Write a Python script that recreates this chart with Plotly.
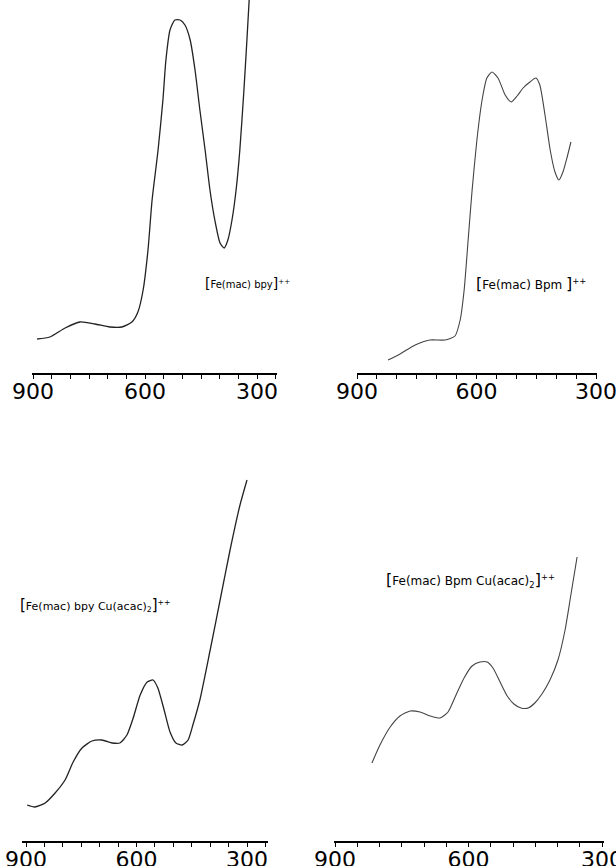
import plotly.graph_objects as go

# ---------------- data (wavelength nm, relative absorbance) ----------------
bpy_nm = [889, 855, 814, 774, 734, 694, 662, 635, 619, 605, 592, 581, 565, 552, 544, 533,
          520, 506, 493, 479, 466, 453, 439, 426, 413, 399, 388, 378, 367, 356, 346, 335, 327, 321]
bpy_abs = [0.34, 0.36, 0.45, 0.51, 0.49, 0.46, 0.46, 0.51, 0.61, 0.83, 1.23, 1.73, 2.23, 2.73, 3.13, 3.43,
           3.53, 3.53, 3.48, 3.33, 3.03, 2.63, 2.23, 1.83, 1.53, 1.30, 1.25, 1.33, 1.53, 1.83, 2.23, 2.83, 3.33, 3.73]

bpm_nm = [822, 792, 754, 717, 679, 654, 641, 631, 621, 611, 599, 586, 574, 561, 546, 528,
          513, 498, 483, 466, 451, 441, 428, 415, 403, 393, 383, 373, 363]
bpm_abs = [0.13, 0.19, 0.28, 0.33, 0.33, 0.37, 0.53, 0.83, 1.33, 1.83, 2.33, 2.73, 2.95, 3.01, 2.95, 2.78,
           2.71, 2.77, 2.85, 2.91, 2.95, 2.88, 2.58, 2.23, 2.01, 1.93, 2.01, 2.15, 2.31]

bpycu_nm = [897, 876, 848, 821, 794, 772, 748, 721, 694, 666, 645, 626, 609, 590, 571, 555,
            542, 525, 509, 493, 476, 460, 447, 428, 400, 373, 346, 319, 300]
bpycu_abs = [0.36, 0.34, 0.38, 0.48, 0.61, 0.79, 0.93, 1.00, 1.01, 0.98, 0.98, 1.06, 1.23, 1.46, 1.59, 1.61,
             1.53, 1.31, 1.09, 0.98, 0.96, 1.01, 1.16, 1.41, 1.91, 2.41, 2.91, 3.36, 3.61]

bpmcu_nm = [817, 799, 776, 754, 731, 709, 686, 664, 646, 628, 610, 592, 574, 558, 545, 529,
            513, 498, 482, 466, 451, 435, 417, 399, 383, 370, 356]
bpmcu_abs = [0.78, 0.96, 1.14, 1.25, 1.30, 1.29, 1.25, 1.23, 1.29, 1.46, 1.63, 1.75, 1.79, 1.79, 1.73, 1.59,
             1.45, 1.37, 1.33, 1.33, 1.38, 1.47, 1.61, 1.81, 2.11, 2.46, 2.84]

tick_vals = [900, 600, 300]
tick_text = ["900", "600", "300"]

BR = "<span style='font-size:{}px'>{}</span>"
labels = ["{}Fe(mac) bpy{}<sup>++</sup>",
          "{}Fe(mac) Bpm {}<sup>++</sup>",
          "{}Fe(mac) bpy Cu(acac)<sub>2</sub>{}<sup>++</sup>",
          "{}Fe(mac) Bpm Cu(acac)<sub>2</sub>{}<sup>++</sup>"]

# ---------------- layout geometry (pixels) ----------------
W, H = 616, 866
# (px of 900, px of 300, axis line start, axis line end, axis y, top y)
panels = [
    (33, 257, 32, 277, 373, 0),
    (357, 596, 357, 597, 373, 0),
    (26, 247, 22, 268, 841, 440),
    (335, 602, 334, 604, 841, 440),
]
series = [(bpy_nm, bpy_abs, "#222", 1.3), (bpm_nm, bpm_abs, "#444", 1.1),
          (bpycu_nm, bpycu_abs, "#222", 1.3), (bpmcu_nm, bpmcu_abs, "#444", 1.1)]
label_pos = [(203, 283), (474, 283), (18, 605), (384, 580)]
label_size = [10, 12, 11, 12]

fig = go.Figure()
layout = dict(width=W, height=H, margin=dict(l=0, r=0, t=0, b=0),
              paper_bgcolor="white", plot_bgcolor="white", showlegend=False,
              template="none")
annotations = []
for i, ((p9, p3, s0, s1, ay, ty), (xs, ys, col, lw), (lx, ly), lab, fs) in enumerate(
        zip(panels, series, label_pos, labels, label_size)):
    n = "" if i == 0 else str(i + 1)
    sc = (p3 - p9) / 600.0
    xr = [900 + (p9 - s0) / sc, 300 - (s1 - p3) / sc]
    yr = [0, (ay - ty) / 100.0]
    fig.add_trace(go.Scatter(x=xs, y=ys, mode="lines",
                             line=dict(color=col, width=lw, shape="spline", smoothing=0.6),
                             xaxis="x" + n, yaxis="y" + n, hoverinfo="skip"))
    layout["xaxis" + n] = dict(domain=[s0 / W, s1 / W], range=xr, anchor="y" + n,
                               showline=True, linecolor="black", linewidth=1.6,
                               ticks="outside", ticklen=4, tickwidth=1.2, tickcolor="black",
                               tickmode="array", tickvals=tick_vals, ticktext=tick_text,
                               minor=dict(ticks="outside", ticklen=4, tickwidth=1.1, tickcolor="black",
                                          tick0=0, dtick=50, showgrid=False),
                               showgrid=False, zeroline=False, ticklabeloverflow="allow",
                               ticklabelstandoff=-6,
                               tickfont=dict(family="DejaVu Sans", size=22, color="black"),
                               automargin=False)
    layout["yaxis" + n] = dict(domain=[1 - ay / H, 1 - ty / H], range=yr, anchor="x" + n,
                               visible=False, showgrid=False, zeroline=False, automargin=False)
    bs = int(fs * 1.4)
    annotations.append(dict(text=lab.format(BR.format(bs, "["), BR.format(bs, "]")),
                            x=lx / W, y=1 - ly / H, xref="paper", yref="paper",
                            xanchor="left", yanchor="middle", showarrow=False,
                            font=dict(family="DejaVu Sans", size=fs, color="black")))
layout["annotations"] = annotations
fig.update_layout(**layout)
fig.write_html("out.html", config={"displayModeBar": False},
               post_script="document.body.style.margin='0';")
